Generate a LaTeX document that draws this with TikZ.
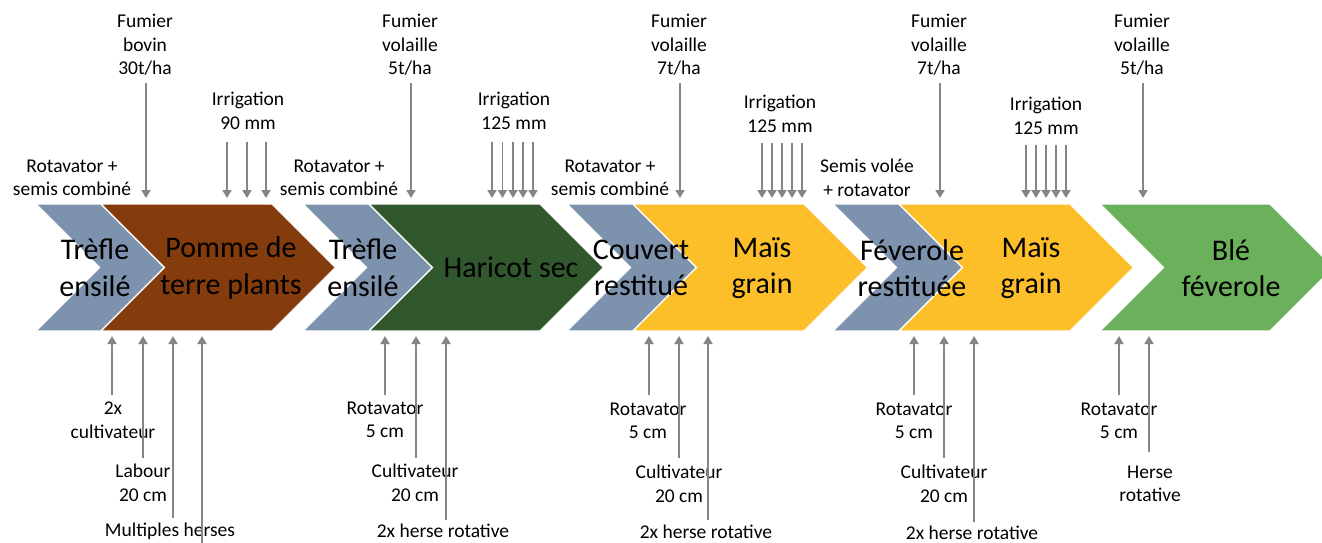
\documentclass[tikz,border=0pt]{standalone}
\usepackage{fontspec}
\setmainfont{Carlito}
\usetikzlibrary{arrows.meta}
\definecolor{bluegrey}{HTML}{7D92AC}
\definecolor{cbrown}{HTML}{843C0C}
\definecolor{dkgreen}{HTML}{31572C}
\definecolor{cyellow}{HTML}{FCBF29}
\definecolor{ltgreen}{HTML}{6BB05A}
\definecolor{arrgray}{HTML}{858585}
\tikzset{
  chev/.style={draw=white, line width=1.2pt, line join=miter},
  arr/.style={draw=arrgray, line width=1.8pt, -{Triangle[width=9pt,length=8pt]}},
  small/.style={align=center, inner sep=0pt, font=\fontsize{19.5}{23.5}\selectfont},
  big/.style={align=center, inner sep=0pt, font=\fontsize{30}{36.5}\selectfont},
}
\newcommand\chevshape[3]{%
  \fill[chev, fill=#3] (#1,204) -- (#2,204) -- (#2+63.5,267.5) -- (#2,331) -- (#1,331) -- (#1+63.5,267.5) -- cycle;}
\begin{document}
\begin{tikzpicture}[x=1pt,y=-1pt]
\useasboundingbox (0,0) rectangle (1322,542);
\fill[white] (0,0) rectangle (1322,542);
% chevrons
\chevshape{36}{101}{bluegrey}
\chevshape{101}{272}{cbrown}
\chevshape{303}{369}{bluegrey}
\chevshape{369}{540}{dkgreen}
\chevshape{567}{633}{bluegrey}
\chevshape{633}{804}{cyellow}
\chevshape{833}{899}{bluegrey}
\chevshape{899}{1070}{cyellow}
\chevshape{1100}{1270}{ltgreen}
% chevron texts
\node[big] (c1) at (95,268) {Trèfle\\ensilé};
\node[big] (c2) at (231,268) {Pomme de\\terre plants};
\node[big] (c3) at (363,268) {Trèfle\\ensilé};
\node[big] (c4) at (511,267) {Haricot sec};
\node[big] (c5) at (641,268) {Couvert\\restitué};
\node[big] (c6) at (762,268) {Maïs\\grain};
\node[big] (c7) at (912,268) {Féverole\\restituée};
\node[big] (c8) at (1031,268) {Maïs\\grain};
\node[big] (c9) at (1231,268) {Blé\\féverole};
% top labels
\node[small] (t1) at (145,45) {Fumier\\bovin\\30t/ha};
\node[small] (t2) at (248,111) {Irrigation\\90 mm};
\node[small] (t3) at (72,178) {Rotavator +\\semis combiné};
\node[small] (t4) at (339,178) {Rotavator +\\semis combiné};
\node[small] (t5) at (410,45) {Fumier\\volaille\\5t/ha};
\node[small] (t6) at (514,111) {Irrigation\\125 mm};
\node[small] (t7) at (610,178) {Rotavator +\\semis combiné};
\node[small] (t8) at (679,45) {Fumier\\volaille\\7t/ha};
\node[small] (t9) at (780,114) {Irrigation\\125 mm};
\node[small] (t10) at (867,178) {Semis volée\\+ rotavator};
\node[small] (t11) at (939,45) {Fumier\\volaille\\7t/ha};
\node[small] (t12) at (1046,116) {Irrigation\\125 mm};
\node[small] (t13) at (1142,45) {Fumier\\volaille\\5t/ha};
% bottom labels
\node[small] (b1) at (113,420) {2x\\cultivateur};
\node[small] (b2) at (143,483) {Labour\\20 cm};
\node[small] (b3) at (170,531) {Multiples herses};
\node[small] (b4) at (385,420) {Rotavator\\5 cm};
\node[small] (b5) at (415,483) {Cultivateur\\20 cm};
\node[small] (b6) at (443,531) {2x herse rotative};
\node[small] (b7) at (648,421) {Rotavator\\5 cm};
\node[small] (b8) at (679,484) {Cultivateur\\20 cm};
\node[small] (b9) at (706,532) {2x herse rotative};
\node[small] (b10) at (914,421) {Rotavator\\5 cm};
\node[small] (b11) at (944,484) {Cultivateur\\20 cm};
\node[small] (b12) at (972,533) {2x herse rotative};
\node[small] (b13) at (1119,421) {Rotavator\\5 cm};
\node[small] (b14) at (1150,484) {Herse\\rotative};
% top arrows (Fumier)
\foreach \x in {146,411,680,940,1143} \draw[arr] (\x,83) -- (\x,198);
% irrigation arrows
\foreach \x in {227,247,266} \draw[arr] (\x,142) -- (\x,198);
\foreach \x in {492,502.5,513,523,533} \draw[arr] (\x,142) -- (\x,198);
\foreach \x in {762,772,782,792,802} \draw[arr] (\x,143) -- (\x,198);
\foreach \x in {1026,1036,1046,1056,1066} \draw[arr] (\x,145) -- (\x,198);
% bottom arrows
\foreach \x/\y in {112/395,143/458,173/518,202/545,
                   385/395,416/458,446/520,
                   649/395,679/458,708/520,
                   914/395,944/458,974/522,
                   1119/395,1149/452}
  \draw[arr] (\x,\y) -- (\x,336);
\end{tikzpicture}
\end{document}
